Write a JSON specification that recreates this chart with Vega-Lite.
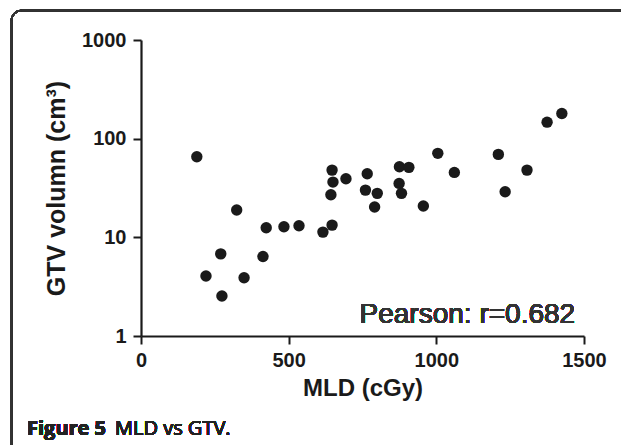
{
  "$schema": "https://vega.github.io/schema/vega-lite/v6.json",
  "autosize": {"type": "none"},
  "padding": {"left": 141, "top": 40, "right": 37, "bottom": 109},
  "width": 443,
  "height": 296,
  "background": "white",
  "config": {
    "view": {"stroke": null},
    "font": "Liberation Sans"
  },
  "datasets": {
    "points": [
      {"mld": 189, "gtv": 65.6},
      {"mld": 324, "gtv": 18.9},
      {"mld": 270, "gtv": 6.8},
      {"mld": 220, "gtv": 4.05},
      {"mld": 349, "gtv": 3.9},
      {"mld": 274, "gtv": 2.54},
      {"mld": 413, "gtv": 6.4},
      {"mld": 424, "gtv": 12.5},
      {"mld": 484, "gtv": 12.8},
      {"mld": 535, "gtv": 13.1},
      {"mld": 616, "gtv": 11.3},
      {"mld": 647, "gtv": 13.3},
      {"mld": 647, "gtv": 48},
      {"mld": 650, "gtv": 36.3},
      {"mld": 643, "gtv": 27},
      {"mld": 694, "gtv": 39.2},
      {"mld": 766, "gtv": 44.1},
      {"mld": 760, "gtv": 30.1},
      {"mld": 800, "gtv": 27.9},
      {"mld": 791, "gtv": 20.3},
      {"mld": 875, "gtv": 51.9},
      {"mld": 907, "gtv": 51.2},
      {"mld": 874, "gtv": 35.2},
      {"mld": 882, "gtv": 27.9},
      {"mld": 956, "gtv": 20.8},
      {"mld": 1005, "gtv": 71},
      {"mld": 1061, "gtv": 45.5},
      {"mld": 1210, "gtv": 69.3},
      {"mld": 1233, "gtv": 29},
      {"mld": 1307, "gtv": 48},
      {"mld": 1375, "gtv": 147},
      {"mld": 1425, "gtv": 180}
    ]
  },
  "data": {"name": "points"},
  "layer": [
    {
      "mark": {"type": "rule", "stroke": "#333333", "strokeWidth": 1.5, "clip": false},
      "encoding": {
        "x": {"datum": -438.5, "type": "quantitative"},
        "y": {"datum": 1574, "type": "quantitative"},
        "y2": {"datum": 0.01}
      }
    },
    {
      "mark": {"type": "rule", "stroke": "#333333", "strokeWidth": 1.5, "clip": false},
      "encoding": {
        "x": {"datum": -404.7, "type": "quantitative"},
        "x2": {"datum": 2600},
        "y": {"datum": 1986, "type": "quantitative"}
      }
    },
    {
      "mark": {"type": "arc", "fill": "#333333", "radius": 10.75, "radius2": 9.25, "theta": 4.712389, "theta2": 6.283185, "clip": false},
      "encoding": {
        "x": {"datum": -404.7, "type": "quantitative"},
        "y": {"datum": 1574, "type": "quantitative"}
      }
    },
    {
      "mark": {"type": "point", "filled": true, "color": "#1a1a1a", "opacity": 1, "size": 130},
      "encoding": {
        "x": {
          "field": "mld",
          "type": "quantitative",
          "scale": {"domain": [0, 1500], "nice": false, "zero": false},
          "axis": {
            "values": [0, 500, 1000, 1500],
            "format": "d",
            "grid": false,
            "domainColor": "#1a1a1a",
            "domainWidth": 2.2,
            "tickColor": "#1a1a1a",
            "tickWidth": 2,
            "tickSize": 8,
            "labelFont": "Liberation Sans",
            "labelFontWeight": "bold",
            "labelFontSize": 20,
            "labelColor": "#1a1a1a",
            "labelPadding": 6,
            "labelFlush": false,
            "title": "MLD (cGy)",
            "titleFont": "Liberation Sans",
            "titleFontSize": 24,
            "titleFontWeight": "bold",
            "titleColor": "#1a1a1a",
            "titlePadding": 6
          }
        },
        "y": {
          "field": "gtv",
          "type": "quantitative",
          "scale": {"type": "log", "domain": [1, 1000], "nice": false},
          "axis": {
            "values": [1, 10, 100, 1000],
            "format": "d",
            "grid": false,
            "domainColor": "#1a1a1a",
            "domainWidth": 2.2,
            "tickColor": "#1a1a1a",
            "tickWidth": 2,
            "tickSize": 8,
            "labelFont": "Liberation Sans",
            "labelFontWeight": "bold",
            "labelFontSize": 20,
            "labelColor": "#1a1a1a",
            "labelPadding": 7,
            "labelFlush": false,
            "title": "GTV volumn (cm³)",
            "titleFont": "Liberation Sans",
            "titleFontSize": 25,
            "titleFontWeight": "bold",
            "titleColor": "#1a1a1a",
            "titlePadding": 12
          }
        }
      }
    },
    {
      "mark": {"type": "text", "text": "Pearson: r=0.682", "align": "right", "baseline": "alphabetic", "font": "Liberation Sans", "fontSize": 28, "color": "#333333"},
      "encoding": {
        "x": {"datum": 1470, "type": "quantitative"},
        "y": {"datum": 1.355, "type": "quantitative"}
      }
    },
    {
      "mark": {"type": "text", "text": "Figure 5", "align": "left", "baseline": "alphabetic", "font": "Open Sans", "fontWeight": "bold", "fontSize": 20, "color": "#222222", "clip": false},
      "encoding": {
        "x": {"datum": -386, "type": "quantitative"},
        "y": {"datum": 0.0993, "type": "quantitative"}
      }
    },
    {
      "mark": {"type": "text", "text": "MLD vs GTV.", "align": "left", "baseline": "alphabetic", "font": "Open Sans", "fontSize": 20, "color": "#222222", "dx": 88, "clip": false},
      "encoding": {
        "x": {"datum": -386, "type": "quantitative"},
        "y": {"datum": 0.0993, "type": "quantitative"}
      }
    }
  ]
}
